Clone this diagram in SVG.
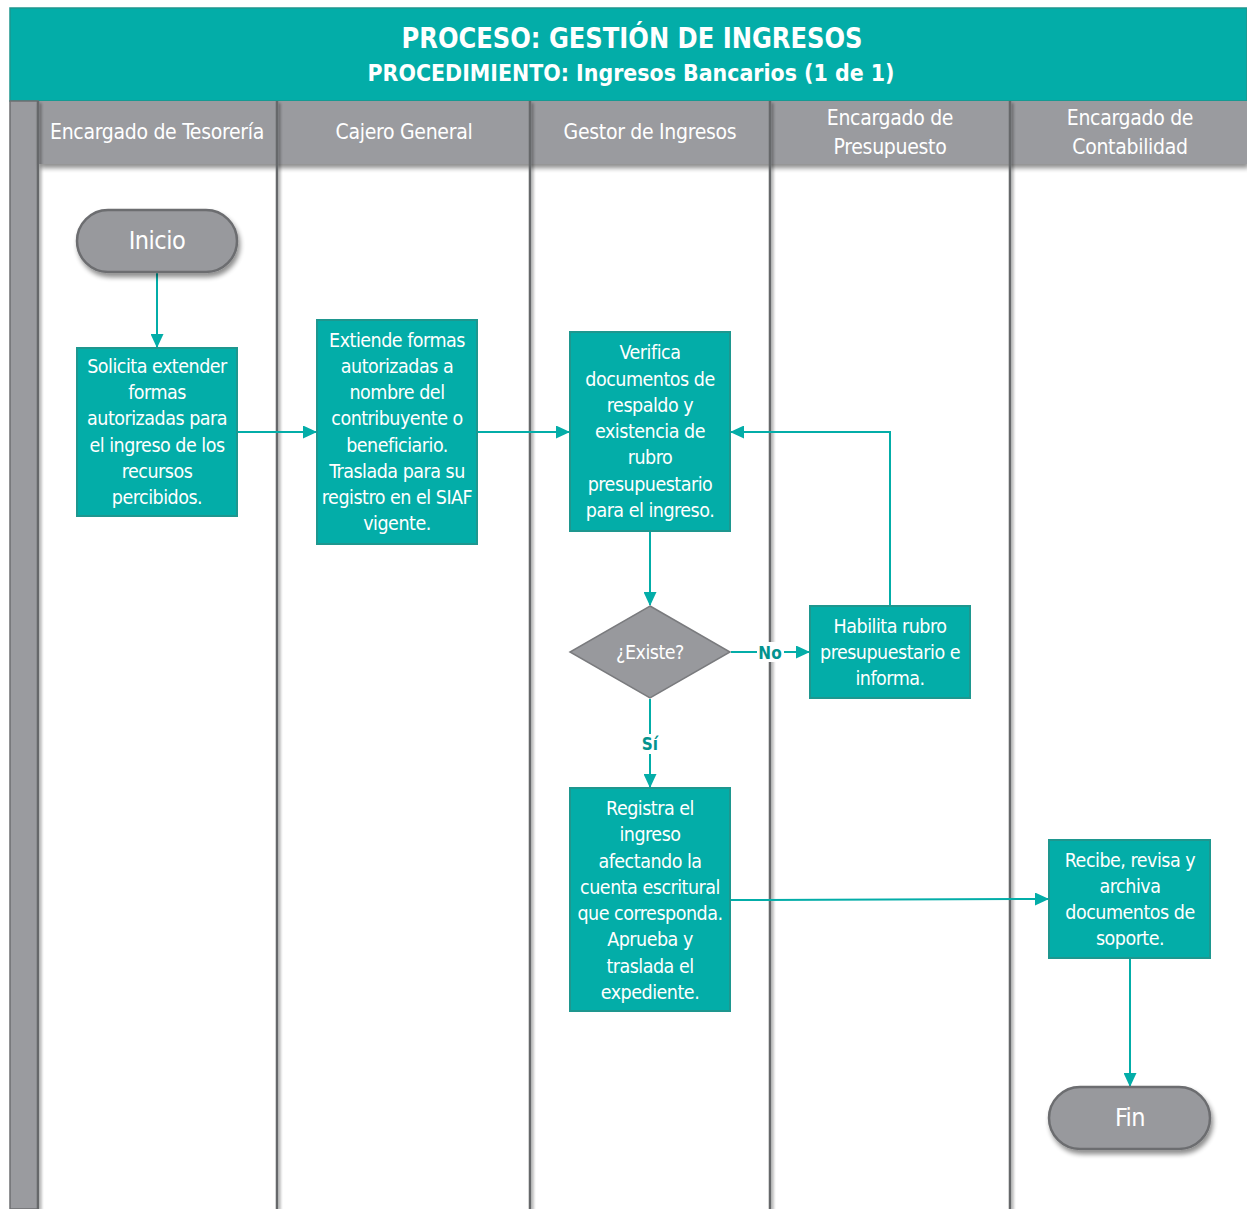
<svg xmlns="http://www.w3.org/2000/svg" width="1247" height="1209" viewBox="0 0 1247 1209">
  <defs>
    <filter id="shadow" x="-20%" y="-20%" width="140%" height="160%">
      <feGaussianBlur in="SourceAlpha" stdDeviation="2.5"/>
      <feOffset dx="2" dy="4" result="b"/>
      <feComponentTransfer><feFuncA type="linear" slope="0.45"/></feComponentTransfer>
      <feMerge><feMergeNode/><feMergeNode in="SourceGraphic"/></feMerge>
    </filter>
    <filter id="lineShadow" x="-200%" y="-5%" width="500%" height="110%">
      <feGaussianBlur in="SourceAlpha" stdDeviation="1.5"/>
      <feOffset dx="2" dy="2"/>
      <feComponentTransfer><feFuncA type="linear" slope="0.4"/></feComponentTransfer>
      <feMerge><feMergeNode/><feMergeNode in="SourceGraphic"/></feMerge>
    </filter>
    <marker id="arrow" viewBox="0 0 14 13" refX="13" refY="6.5" markerWidth="14" markerHeight="13" markerUnits="userSpaceOnUse" orient="auto">
      <path d="M0,0 L14,6.5 L0,13 z" fill="#03ADA8"/>
    </marker>
  </defs>
  <style>
    .title { font-family: "DejaVu Sans", "Liberation Sans", sans-serif; font-stretch: condensed; font-weight: bold; fill: #ffffff; text-anchor: middle; }
    .lane-head { fill: #9A9B9F; }
    .lane-text { font-family: "DejaVu Sans", "Liberation Sans", sans-serif; font-stretch: condensed; font-size: 21px; letter-spacing: -0.3px; fill: #ffffff; text-anchor: middle; }
    .sep { stroke: #66676A; stroke-width: 2.5; }
    .box { fill: #03ADA8; stroke: #1E978F; stroke-width: 2; }
    .term { fill: #98999D; stroke: #6C6D70; stroke-width: 2.5; }
    .diamond { fill: #98999D; stroke: #7A7B7E; stroke-width: 1.5; }
    .t { font-family: "DejaVu Sans", "Liberation Sans", sans-serif; font-stretch: condensed; font-size: 19.5px; letter-spacing: -0.5px; fill: #ffffff; text-anchor: middle; }
    .tt { font-family: "DejaVu Sans", "Liberation Sans", sans-serif; font-stretch: condensed; font-size: 25px; letter-spacing: -0.5px; fill: #ffffff; text-anchor: middle; }
    .conn { fill: none; stroke: #03ADA8; stroke-width: 2; marker-end: url(#arrow); }
    .lbl { font-family: "DejaVu Sans", "Liberation Sans", sans-serif; font-stretch: condensed; font-weight: bold; font-size: 17px; fill: #03938E; text-anchor: middle; }
  </style>

  <rect width="1247" height="1209" fill="#ffffff"/>

  <!-- Swimlane frame -->
  <g id="frame">
    <rect x="10" y="8" width="1237" height="93" fill="#03ADA8" stroke="#1E978F" stroke-width="1.5"/>
    <text class="title" x="632" y="48" font-size="29" textLength="461" lengthAdjust="spacingAndGlyphs">PROCESO: GESTIÓN DE INGRESOS</text>
    <text class="title" x="631" y="81" font-size="23" textLength="527" lengthAdjust="spacingAndGlyphs">PROCEDIMIENTO: Ingresos Bancarios (1 de 1)</text>
    <rect x="10" y="101" width="28" height="1108" fill="#9A9B9F" stroke="#6E6F72" stroke-width="1.5"/>
    <g filter="url(#shadow)">
      <rect class="lane-head" x="38" y="101" width="239" height="63"/>
      <rect class="lane-head" x="277" y="101" width="253" height="63"/>
      <rect class="lane-head" x="530" y="101" width="240" height="63"/>
      <rect class="lane-head" x="770" y="101" width="240" height="63"/>
      <rect class="lane-head" x="1010" y="101" width="237" height="63"/>
    </g>
    <g filter="url(#lineShadow)">
      <line class="sep" x1="38" y1="101" x2="38" y2="1209"/>
      <line class="sep" x1="277" y1="101" x2="277" y2="1209"/>
      <line class="sep" x1="530" y1="101" x2="530" y2="1209"/>
      <line class="sep" x1="770" y1="101" x2="770" y2="1209"/>
      <line class="sep" x1="1010" y1="101" x2="1010" y2="1209"/>
    </g>
    <text class="lane-text" x="157" y="139">Encargado de Tesorería</text>
    <text class="lane-text" x="404" y="139">Cajero General</text>
    <text class="lane-text" x="650" y="139">Gestor de Ingresos</text>
    <text class="lane-text" x="890" y="125">Encargado de</text>
    <text class="lane-text" x="890" y="154">Presupuesto</text>
    <text class="lane-text" x="1130" y="125">Encargado de</text>
    <text class="lane-text" x="1130" y="154">Contabilidad</text>
  </g>

  <!-- Connectors -->
  <g id="connectors">
    <line class="conn" x1="157" y1="273" x2="157" y2="347"/>
    <line class="conn" x1="238" y1="432" x2="316" y2="432"/>
    <line class="conn" x1="478" y1="432" x2="569" y2="432"/>
    <line class="conn" x1="650" y1="532" x2="650" y2="605"/>
    <line class="conn" x1="731" y1="652" x2="809" y2="652"/>
    <polyline class="conn" points="890,605 890,432 731,432"/>
    <line class="conn" x1="650" y1="699" x2="650" y2="787"/>
    <line class="conn" x1="731" y1="900" x2="1048" y2="899"/>
    <line class="conn" x1="1130" y1="959" x2="1130" y2="1086"/>
    <rect x="757" y="642" width="27" height="20" fill="#ffffff"/>
    <text class="lbl" x="770" y="659">No</text>
    <rect x="640" y="734" width="20" height="20" fill="#ffffff"/>
    <text class="lbl" x="650" y="750">Sí</text>
  </g>

  <!-- Nodes -->
  <g id="inicio">
    <rect class="term" x="77" y="210" width="160" height="62" rx="31" filter="url(#shadow)"/>
    <text class="tt" x="157" y="249">Inicio</text>
  </g>
  <g id="solicita">
    <rect class="box" x="77" y="348" width="160" height="168"/>
    <text class="t" x="157" y="373">Solicita extender</text>
    <text class="t" x="157" y="399">formas</text>
    <text class="t" x="157" y="425">autorizadas para</text>
    <text class="t" x="157" y="452">el ingreso de los</text>
    <text class="t" x="157" y="478">recursos</text>
    <text class="t" x="157" y="504">percibidos.</text>
  </g>
  <g id="extiende">
    <rect class="box" x="317" y="320" width="160" height="224"/>
    <text class="t" x="397" y="347">Extiende formas</text>
    <text class="t" x="397" y="373">autorizadas a</text>
    <text class="t" x="397" y="399">nombre del</text>
    <text class="t" x="397" y="425">contribuyente o</text>
    <text class="t" x="397" y="452">beneficiario.</text>
    <text class="t" x="397" y="478">Traslada para su</text>
    <text class="t" x="397" y="504">registro en el SIAF</text>
    <text class="t" x="397" y="530">vigente.</text>
  </g>
  <g id="verifica">
    <rect class="box" x="570" y="332" width="160" height="199"/>
    <text class="t" x="650" y="359">Verifica</text>
    <text class="t" x="650" y="386">documentos de</text>
    <text class="t" x="650" y="412">respaldo y</text>
    <text class="t" x="650" y="438">existencia de</text>
    <text class="t" x="650" y="464">rubro</text>
    <text class="t" x="650" y="491">presupuestario</text>
    <text class="t" x="650" y="517">para el ingreso.</text>
  </g>
  <g id="existe">
    <polygon class="diamond" points="650,606 730,652 650,698 570,652"/>
    <text class="t" x="650" y="659">¿Existe?</text>
  </g>
  <g id="habilita">
    <rect class="box" x="810" y="606" width="160" height="92"/>
    <text class="t" x="890" y="633">Habilita rubro</text>
    <text class="t" x="890" y="659">presupuestario e</text>
    <text class="t" x="890" y="685">informa.</text>
  </g>
  <g id="registra">
    <rect class="box" x="570" y="788" width="160" height="223"/>
    <text class="t" x="650" y="815">Registra el</text>
    <text class="t" x="650" y="841">ingreso</text>
    <text class="t" x="650" y="868">afectando la</text>
    <text class="t" x="650" y="894">cuenta escritural</text>
    <text class="t" x="650" y="920">que corresponda.</text>
    <text class="t" x="650" y="946">Aprueba y</text>
    <text class="t" x="650" y="973">traslada el</text>
    <text class="t" x="650" y="999">expediente.</text>
  </g>
  <g id="recibe">
    <rect class="box" x="1049" y="840" width="161" height="118"/>
    <text class="t" x="1130" y="867">Recibe, revisa y</text>
    <text class="t" x="1130" y="893">archiva</text>
    <text class="t" x="1130" y="919">documentos de</text>
    <text class="t" x="1130" y="945">soporte.</text>
  </g>
  <g id="fin">
    <rect class="term" x="1049" y="1087" width="161" height="62" rx="31" filter="url(#shadow)"/>
    <text class="tt" x="1130" y="1126">Fin</text>
  </g>
</svg>
